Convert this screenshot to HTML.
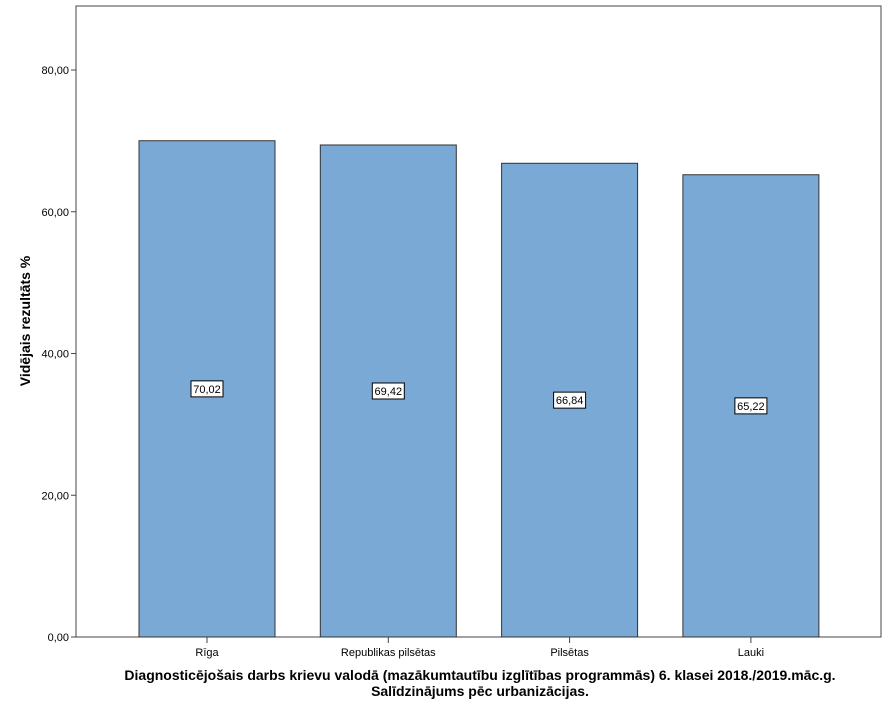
<!DOCTYPE html>
<html><head><meta charset="utf-8"><style>
body{margin:0;background:#fff;font-family:"Liberation Sans",sans-serif;}
svg text{font-family:"Liberation Sans",sans-serif;}
</style></head><body>
<svg id="chart" width="891" height="713" xmlns="http://www.w3.org/2000/svg">
<rect x="76" y="6" width="805" height="631" fill="#fff" stroke="#444" stroke-width="1"/>
<g id="yaxis"></g>
<g id="bars"></g>
<g id="xaxis"></g>
<text x="30" y="321" transform="rotate(-90 30 321)" text-anchor="middle" font-size="14" font-weight="bold">Vidējais rezultāts %</text>
<text x="480" y="680" text-anchor="middle" font-size="14" font-weight="bold">Diagnosticējošais darbs krievu valodā (mazākumtautību izglītības programmās) 6. klasei 2018./2019.māc.g.</text>
<text x="480" y="696" text-anchor="middle" font-size="14" font-weight="bold">Salīdzinājums pēc urbanizācijas.</text>
</svg>
<script>
const categories = ["Rīga", "Republikas pilsētas", "Pilsētas", "Lauki"];
const values = [70.02, 69.42, 66.84, 65.22];
const valueLabels = ["70,02", "69,42", "66,84", "65,22"];
const yTicks = [0, 20, 40, 60, 80];
const yTickLabels = ["0,00", "20,00", "40,00", "60,00", "80,00"];
const NS = "http://www.w3.org/2000/svg";
function y(v){ return 637 - v * 7.0875; }
function xc(i){ return 207 + i * 181.3; }
function mk(tag, attrs, parent, txt){
  const e = document.createElementNS(NS, tag);
  for (const k in attrs) e.setAttribute(k, attrs[k]);
  if (txt !== undefined) e.textContent = txt;
  parent.appendChild(e); return e;
}
const ya = document.getElementById('yaxis'), ba = document.getElementById('bars'), xa = document.getElementById('xaxis');
yTicks.forEach((t, i) => {
  const l = mk('line', {x1: 71, x2: 76, y1: y(t), y2: y(t), stroke: '#444'}, ya);
  
  
  const tx = mk('text', {x: 69, y: y(t) + 4, 'text-anchor': 'end', 'font-size': 11}, ya, yTickLabels[i]);
  
  
});
categories.forEach((c, i) => {
  const cx = xc(i), w = 136;
  const r = mk('rect', {x: cx - w/2, y: y(values[i]), width: w, height: 637 - y(values[i]), fill: '#7ba9d6', stroke: '#333', 'stroke-width': 1}, ba);
  
  
  const ly = y(values[i] / 2);
  const bg = mk('rect', {x: cx - 16, y: ly - 8, width: 32, height: 16, fill: '#fff', stroke: '#000', 'stroke-width': 1}, ba);
  
  
  const vt = mk('text', {x: cx, y: ly + 4, 'text-anchor': 'middle', 'font-size': 11}, ba, valueLabels[i]);
  
  
  const tk = mk('line', {x1: cx, x2: cx, y1: 637, y2: 643, stroke: '#444'}, xa);
  
  
  const ct = mk('text', {x: cx, y: 656, 'text-anchor': 'middle', 'font-size': 11}, xa, c);
  
  
});
</script>
</body></html>
